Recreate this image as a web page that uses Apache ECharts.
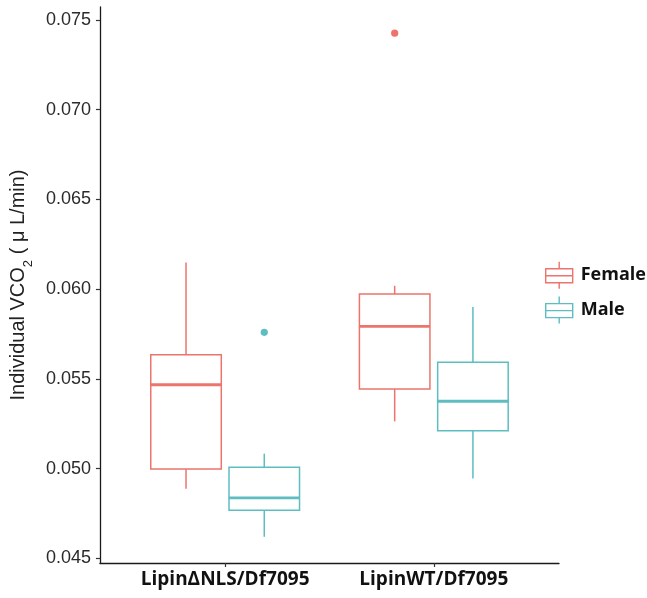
<!DOCTYPE html>
<html>
<head>
<meta charset="utf-8">
<script src="https://cdn.jsdelivr.net/npm/echarts@6/dist/echarts.min.js"></script>
<style>
	html, body { margin: 0; padding: 0; background: #fff; }
	#chart { width: 647px; height: 598px; }
</style>
</head>
<body>
<div id="chart"></div>
<script>
// data
const categories = ["Lipin\u0394NLS/Df7095", "LipinWT/Df7095"];
const seriesNames = ["Female", "Male"];
// [low whisker, Q1, median, Q3, high whisker] per category
const femaleStats = [
	[0.04888, 0.04999, 0.05468, 0.05635, 0.06149],
	[0.05264, 0.05444, 0.05793, 0.05973, 0.06019]
];
const maleStats = [
	[0.04621, 0.04769, 0.04838, 0.05008, 0.05084],
	[0.04945, 0.05212, 0.05376, 0.05593, 0.05901]
];
// [category index, value]
const femaleOutliers = [[1, 0.07426]];
const maleOutliers = [[0, 0.05760]];
const yTicks = [0.045, 0.050, 0.055, 0.060, 0.065, 0.070, 0.075];

const femaleColor = "#EC746C";
const maleColor = "#5DBDC1";
const boxHalf = 0.169;
const dodge = 0.1875;

function renderBox(offset, color) {
	return function (params, api) {
		const x = api.value(0) + offset;
		const lowP = api.coord([x, api.value(1)]);
		const q1L = api.coord([x - boxHalf, api.value(2)]);
		const medL = api.coord([x - boxHalf, api.value(3)]);
		const q3R = api.coord([x + boxHalf, api.value(4)]);
		const highP = api.coord([x, api.value(5)]);
		const lineStyle = {stroke: color, lineWidth: 1.5, fill: null};
		return {
			type: "group",
			children: [
				{type: "line", shape: {x1: highP[0], y1: highP[1], x2: highP[0], y2: q3R[1]}, style: lineStyle},
				{type: "line", shape: {x1: lowP[0], y1: lowP[1], x2: lowP[0], y2: q1L[1]}, style: lineStyle},
				{
					type: "rect",
					shape: {x: q1L[0], y: q3R[1], width: q3R[0] - q1L[0], height: q1L[1] - q3R[1]},
					style: {stroke: color, lineWidth: 1.5, fill: "none"}
				},
				{type: "line", shape: {x1: medL[0], y1: medL[1], x2: q3R[0], y2: medL[1]}, style: {stroke: color, lineWidth: 2.8}}
			]
		};
	};
}

function renderDot(offset, color) {
	return function (params, api) {
		const p = api.coord([api.value(0) + offset, api.value(1)]);
		return {type: "circle", shape: {cx: p[0], cy: p[1], r: 3.6}, style: {fill: color}};
	};
}

function boxSeries(name, stats, offset, color) {
	return {
		name: name,
		type: "custom",
		renderItem: renderBox(offset, color),
		itemStyle: {color: color},
		encode: {x: 0, y: [1, 2, 3, 4, 5]},
		data: stats.map((s, i) => [i + 1].concat(s))
	};
}

function dotSeries(name, points, offset, color) {
	return {
		name: name,
		type: "custom",
		renderItem: renderDot(offset, color),
		itemStyle: {color: color},
		encode: {x: 0, y: 1},
		data: points.map(p => [p[0] + 1, p[1]])
	};
}

const legendIcon = "path://M13.5,0L13.5,7M0,7L27,7L27,21L0,21ZM0,14L27,14M13.5,21L13.5,27";

const chart = echarts.init(document.getElementById("chart"));
const option = {
	animation: false,
	grid: {left: 98, right: 88, top: 7, bottom: 35},
	xAxis: {
		type: "value",
		min: 0.4,
		max: 2.6,
		splitLine: {show: false},
		axisLine: {lineStyle: {color: "#1a1a1a", width: 1.3}},
		axisTick: {customValues: [1, 2], length: 4, lineStyle: {color: "#333", width: 1.2}},
		axisLabel: {
			customValues: [1, 2],
			formatter: v => categories[Math.round(v) - 1] || "",
			fontFamily: "Open Sans",
			fontWeight: "bold",
			fontSize: 19,
			color: "#111",
			margin: 7
		}
	},
	yAxis: {
		type: "value",
		min: 0.04475,
		max: 0.07572,
		name: "Individual VCO{sub|2} ( \u03bc L/min)",
		nameLocation: "middle",
		nameGap: 67,
		nameTextStyle: {
			fontFamily: "Liberation Sans",
			fontSize: 20,
			color: "#222",
			rich: {
				sub: {fontFamily: "Liberation Sans", fontSize: 13, color: "#222", verticalAlign: "bottom", padding: [0, 0, -7, 0]}
			}
		},
		splitLine: {show: false},
		axisLine: {show: true, lineStyle: {color: "#1a1a1a", width: 1.3}},
		axisTick: {show: true, customValues: yTicks, length: 4, lineStyle: {color: "#333", width: 1.2}},
		axisLabel: {
			customValues: yTicks,
			formatter: v => v.toFixed(3),
			fontFamily: "Liberation Sans",
			fontSize: 18,
			color: "#2a2a2a",
			margin: 9
		}
	},
	legend: {
		orient: "vertical",
		left: 540,
		top: 256,
		itemWidth: 27,
		itemHeight: 27,
		itemGap: 6.5,
		textStyle: {fontFamily: "Open Sans", fontWeight: "bold", fontSize: 18, color: "#111", padding: [0, 0, 0, 3]},
		data: [
			{name: "Female", icon: legendIcon, itemStyle: {color: "transparent", borderColor: femaleColor, borderWidth: 1.4}},
			{name: "Male", icon: legendIcon, itemStyle: {color: "transparent", borderColor: maleColor, borderWidth: 1.4}}
		]
	},
	series: [
		boxSeries(seriesNames[0], femaleStats, -dodge, femaleColor),
		boxSeries(seriesNames[1], maleStats, dodge, maleColor),
		dotSeries(seriesNames[0], femaleOutliers, -dodge, femaleColor),
		dotSeries(seriesNames[1], maleOutliers, dodge, maleColor)
	]
};
chart.setOption(option);
</script>
</body>
</html>
